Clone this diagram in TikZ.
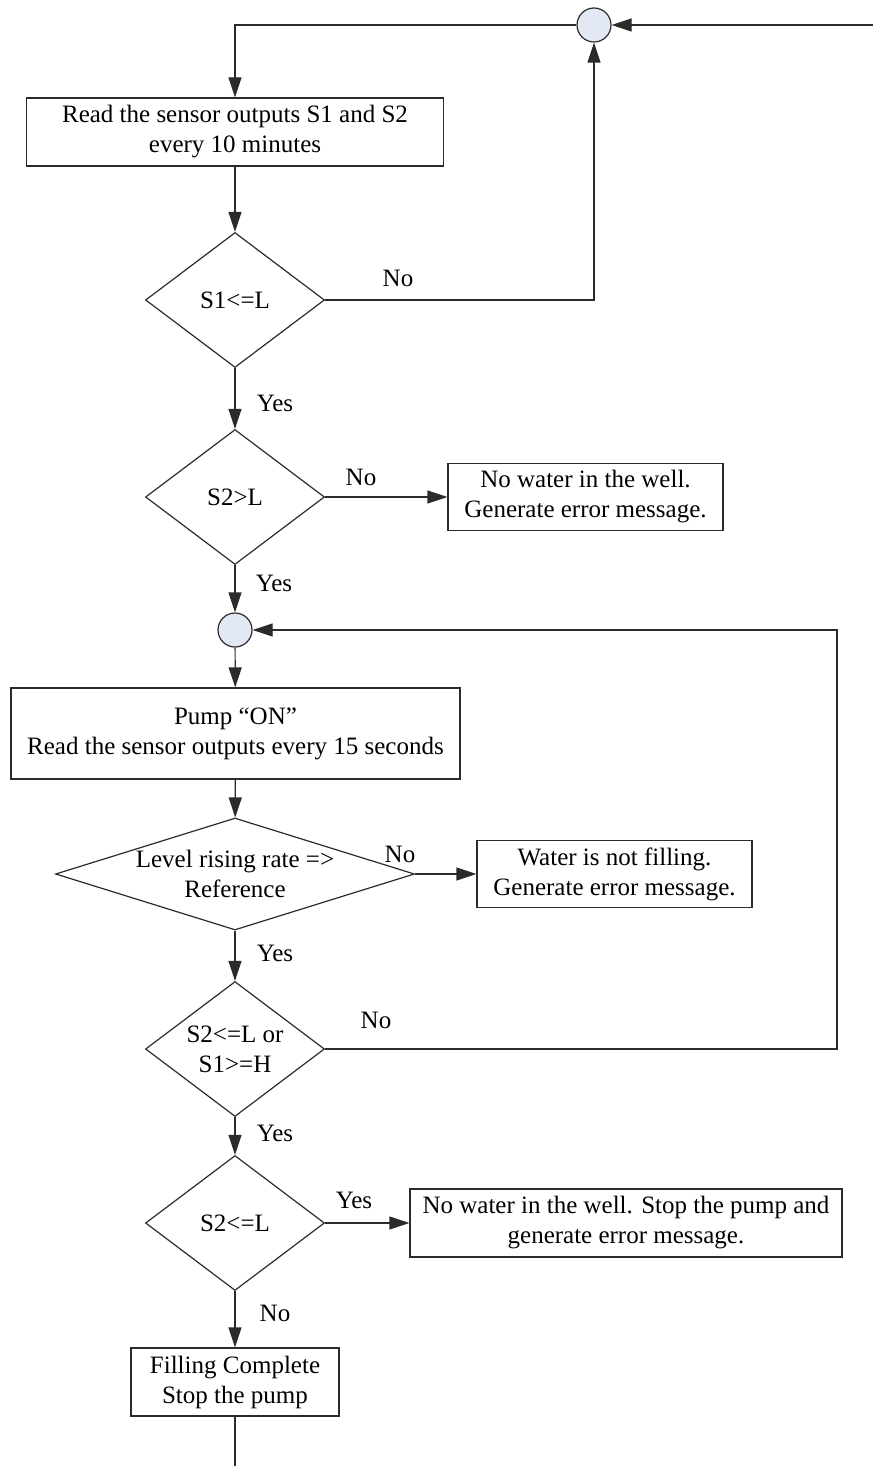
\documentclass[tikz,border=0pt]{standalone}
\usepackage{fontspec}
\setmainfont{Liberation Serif}
\usepackage{tikz}
\usetikzlibrary{arrows.meta,shapes.geometric}
\definecolor{FlowLine}{HTML}{2B2B2B}
\definecolor{FlowJoin}{HTML}{E3E9F4}

\begin{document}
\begin{tikzpicture}[x=0.5pt,y=-0.5pt,>={Triangle[length=10pt,width=6.5pt]},
    font=\fontsize{12.5}{15}\selectfont,
    proc/.style={draw=FlowLine,line width=0.6pt,align=center,inner sep=0pt},
    test/.style={draw=FlowLine,line width=0.6pt,diamond,inner sep=0pt,minimum width=89.5pt,minimum height=67.5pt},
    junction/.style={draw=FlowLine,fill=FlowJoin,line width=0.6pt,circle,inner sep=0pt,minimum size=17pt},
    flow/.style={FlowLine,line width=0.6pt}]
    \useasboundingbox (0,0) rectangle (873,1466);
    \node[junction] (joinA) at (594,25) {};
    \node[proc,minimum width=208.5pt,minimum height=34pt] (readBox) at (235,132) {Read the sensor outputs S1 and S2\\every 10 minutes};
    \node[test,label={center:S1<=L}] (testLow) at (235,300) {};
    \node[test,label={center:S2>L}] (testWell) at (235,497) {};
    \node[proc,minimum width=137.5pt,minimum height=33.5pt] (wellBox) at (585.5,497) {No water in the well.\\Generate error message.};
    \node[junction] (joinB) at (235,630) {};
    \node[proc,minimum width=224.5pt,minimum height=45.5pt] (pumpBox) at (235.5,733.5) {Pump “ON”\\Read the sensor outputs every 15 seconds};
    \node[test,minimum width=179.5pt,minimum height=56pt,label={[align=center]center:Level rising rate =>\\Reference}] (testRate) at (235,874) {};
    \node[proc,minimum width=137.5pt,minimum height=33.5pt] (rateBox) at (614.5,874) {Water is not filling.\\Generate error message.};
    \node[test,label={[align=center]center:S2<=L or\\S1>=H}] (testStop) at (235,1049) {};
    \node[test,label={center:S2<=L}] (testDry) at (235,1223) {};
    \node[proc,minimum width=216pt,minimum height=34pt] (dryBox) at (626,1223) {No water in the well. Stop the pump and\\generate error message.};
    \node[proc,minimum width=104pt,minimum height=34pt] (doneBox) at (235,1382) {Filling Complete\\Stop the pump};
    \coordinate (entry) at (873,25);
    \coordinate (loopB) at (837,630);
    \coordinate (exit) at (235,1466);
    \draw[flow,->] (entry) -- (joinA);
    \draw[flow,->] (joinA) -| (readBox);
    \draw[flow,->] (readBox) -- (testLow);
    \draw[flow,->] (testLow.east) -| (joinA);
    \draw[flow,->] (testLow) -- (testWell);
    \draw[flow,->] (testWell) -- (wellBox);
    \draw[flow,->] (testWell) -- (joinB);
    \draw[flow,->] (joinB) -- (pumpBox);
    \draw[flow,->] (pumpBox) -- (testRate);
    \draw[flow,->] (testRate) -- (rateBox);
    \draw[flow,->] (testRate) -- (testStop);
    \draw[flow,->] (testStop.east) -| (loopB) -- (joinB);
    \draw[flow,->] (testStop) -- (testDry);
    \draw[flow,->] (testDry) -- (dryBox);
    \draw[flow,->] (testDry) -- (doneBox);
    \draw[flow] (doneBox) -- (exit);
    \node (noLow) at (398,278) {No};
    \node (yesLow) at (275,403) {Yes};
    \node (noWell) at (361,477) {No};
    \node (yesWell) at (274,583) {Yes};
    \node (noRate) at (400,854) {No};
    \node (yesRate) at (275,953) {Yes};
    \node (noStop) at (376,1020) {No};
    \node (yesStop) at (275,1133) {Yes};
    \node (yesDry) at (354,1200) {Yes};
    \node (noDry) at (275,1313) {No};
\end{tikzpicture}
\end{document}
